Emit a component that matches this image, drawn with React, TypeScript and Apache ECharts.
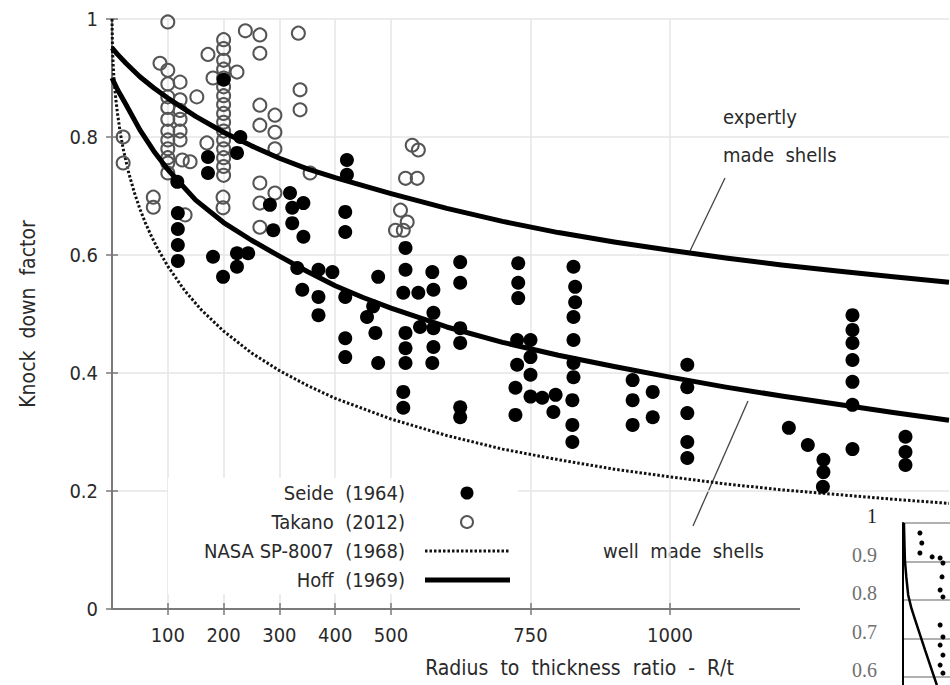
import React, { useEffect, useRef } from "react";
import * as echarts from "echarts";

const FONT = "'DejaVu Sans Condensed','Liberation Sans Narrow','DejaVu Sans',sans-serif";
const SERIF = "'Liberation Serif','DejaVu Serif',serif";

const xTicks = [100, 200, 300, 400, 500, 750, 1000];

const seide: number[][] = [
  [117, 0.724], [118, 0.671], [118, 0.644], [118, 0.617], [118, 0.59],
  [172, 0.766], [172, 0.739], [181, 0.597], [199, 0.563], [200, 0.897], [224, 0.773], [230, 0.8],
  [224, 0.603], [224, 0.58], [244, 0.603],
  [283, 0.685], [289, 0.642], [319, 0.705], [323, 0.68], [343, 0.688], [323, 0.654], [343, 0.631],
  [332, 0.578], [341, 0.541], [370, 0.575], [395, 0.571], [370, 0.529], [370, 0.498],
  [421, 0.761], [421, 0.736], [418, 0.673], [418, 0.639], [418, 0.529], [418, 0.459], [418, 0.427],
  [457, 0.495], [468, 0.513], [472, 0.468], [477, 0.563], [477, 0.417],
  [526, 0.612], [526, 0.575], [522, 0.536], [549, 0.536], [574, 0.571], [576, 0.541], [576, 0.502],
  [552, 0.478], [576, 0.476], [526, 0.468], [526, 0.442], [526, 0.417], [576, 0.444], [574, 0.417],
  [522, 0.368], [522, 0.341],
  [624, 0.588], [624, 0.553], [624, 0.476], [624, 0.451], [624, 0.342], [624, 0.325],
  [728, 0.586], [728, 0.553], [728, 0.527], [726, 0.456], [750, 0.456], [750, 0.427], [726, 0.414],
  [750, 0.397], [723, 0.375], [750, 0.36], [771, 0.358], [795, 0.363], [791, 0.334], [723, 0.329],
  [827, 0.58], [830, 0.546], [830, 0.52], [827, 0.495], [827, 0.456], [827, 0.417], [827, 0.393],
  [825, 0.354], [825, 0.312], [825, 0.283],
  [933, 0.388], [933, 0.354], [933, 0.312], [969, 0.368], [969, 0.325],
  [1031, 0.414], [1031, 0.376], [1031, 0.332], [1031, 0.283], [1031, 0.256],
  [1213, 0.307], [1247, 0.278], [1275, 0.253], [1275, 0.232], [1274, 0.207],
  [1327, 0.498], [1327, 0.473], [1327, 0.451], [1327, 0.422], [1327, 0.385], [1327, 0.346], [1327, 0.271],
  [1422, 0.292], [1422, 0.266], [1422, 0.244],
];

const takano: number[][] = [
  [20, 0.8], [20, 0.756], [74, 0.698], [74, 0.681],
  [100, 0.995], [86, 0.925], [100, 0.913], [100, 0.89], [100, 0.868], [100, 0.85], [100, 0.83],
  [100, 0.81], [100, 0.795], [100, 0.78], [100, 0.765], [100, 0.756], [100, 0.739],
  [122, 0.893], [122, 0.863], [122, 0.845], [122, 0.83], [122, 0.81], [122, 0.795], [126, 0.761],
  [140, 0.758], [131, 0.668],
  [200, 0.965], [200, 0.95], [200, 0.93], [200, 0.915], [200, 0.9], [200, 0.885], [200, 0.87],
  [200, 0.855], [200, 0.84], [200, 0.825], [200, 0.81], [200, 0.795], [200, 0.78], [200, 0.765],
  [200, 0.75], [200, 0.735], [199, 0.698], [199, 0.68],
  [172, 0.94], [181, 0.9], [152, 0.868], [170, 0.79], [224, 0.91], [239, 0.98], [265, 0.973],
  [265, 0.942], [265, 0.854], [292, 0.837], [265, 0.82], [292, 0.808], [292, 0.78], [334, 0.976],
  [337, 0.88], [337, 0.846], [355, 0.739], [265, 0.722], [292, 0.705], [265, 0.688], [265, 0.647],
  [538, 0.786], [549, 0.778], [526, 0.73], [547, 0.73], [517, 0.676], [529, 0.656], [508, 0.642],
  [522, 0.642],
];

const nasa: number[][] = [
  [0, 1], [1, 0.945], [2, 0.924], [3, 0.907], [5, 0.882], [7, 0.863], [10, 0.839], [15, 0.806],
  [20, 0.78], [30, 0.739], [40, 0.706], [50, 0.678], [60, 0.654], [70, 0.633], [80, 0.614],
  [100, 0.581], [130, 0.54], [160, 0.507], [200, 0.471], [250, 0.434], [300, 0.404], [350, 0.379],
  [400, 0.357], [500, 0.322], [600, 0.294], [700, 0.271], [800, 0.253], [900, 0.237], [1000, 0.224],
  [1100, 0.212], [1200, 0.202], [1300, 0.194], [1400, 0.186], [1500, 0.179],
];

const hoffUpper: number[][] = [
  [0, 0.951], [10, 0.94], [25, 0.925], [50, 0.902], [75, 0.883], [100, 0.866], [150, 0.835],
  [200, 0.808], [250, 0.785], [300, 0.764], [350, 0.746], [400, 0.731], [500, 0.704], [600, 0.679],
  [700, 0.657], [800, 0.638], [900, 0.622], [1000, 0.608], [1100, 0.595], [1200, 0.583],
  [1300, 0.573], [1400, 0.563], [1500, 0.554],
];

const hoffLower: number[][] = [
  [0, 0.9], [10, 0.88], [25, 0.855], [50, 0.812], [75, 0.776], [100, 0.745], [150, 0.693],
  [200, 0.655], [250, 0.625], [300, 0.598], [350, 0.572], [400, 0.548], [450, 0.528], [500, 0.51],
  [600, 0.478], [700, 0.452], [800, 0.43], [900, 0.411], [1000, 0.393], [1100, 0.376], [1200, 0.361],
  [1300, 0.347], [1400, 0.333], [1500, 0.32],
];

// fragment of a neighbouring figure, bottom-right corner
const insetTicks = [0.6, 0.7, 0.8, 0.9, 1];
const insetCurve: number[][] = [
  [2, 1.0], [3, 0.95], [4, 0.904], [7, 0.86], [11, 0.813], [18, 0.778], [26, 0.748], [47, 0.67], [72, 0.579],
];
const insetDots: number[][] = [
  [36, 0.974], [40, 0.948], [36, 0.922], [62, 0.912], [79, 0.909], [85, 0.896], [83, 0.86],
  [79, 0.826], [85, 0.808], [79, 0.735], [85, 0.704], [79, 0.683], [85, 0.657], [79, 0.631], [85, 0.61],
];

const legendRows = [
  { label: "Seide  (1964)", kind: "filled" },
  { label: "Takano  (2012)", kind: "open" },
  { label: "NASA SP-8007  (1968)", kind: "dotted" },
  { label: "Hoff  (1969)", kind: "solid" },
];

const TEXT = "#2a2a2a";
const AXIS = "#7a7a7a";
const GRID = "#e6e6e6";

export default function App() {
  const ref = useRef<HTMLDivElement>(null);
  useEffect(() => {
    document.body.style.margin = "0";
    if (!ref.current) return;
    const chart = echarts.init(ref.current, null, { renderer: "svg" });

    const legendGraphics: any[] = [
      { type: "rect", z: 10, shape: { x: 168, y: 478, width: 350, height: 116 }, style: { fill: "#fff" } },
    ];
    const rowY = [493, 522, 551, 580];
    legendRows.forEach((r, i) => {
      const y = rowY[i];
      legendGraphics.push({
        type: "text",
        z: 11,
        x: 405,
        y,
        style: { text: r.label, font: `20px ${FONT}`, fill: TEXT, align: "right", verticalAlign: "middle" },
      });
      if (r.kind === "filled") {
        legendGraphics.push({ type: "circle", z: 11, shape: { cx: 467, cy: y, r: 6.5 }, style: { fill: "#000" } });
      } else if (r.kind === "open") {
        legendGraphics.push({ type: "circle", z: 11, shape: { cx: 467, cy: y, r: 6 }, style: { fill: "none", stroke: "#555", lineWidth: 2 } });
      } else if (r.kind === "dotted") {
        legendGraphics.push({ type: "line", z: 11, shape: { x1: 425, y1: y, x2: 510, y2: y }, style: { stroke: "#111", lineWidth: 3, lineDash: [2.5, 2] } });
      } else {
        legendGraphics.push({ type: "line", z: 11, shape: { x1: 425, y1: y, x2: 510, y2: y }, style: { stroke: "#000", lineWidth: 5 } });
      }
    });

    chart.setOption({
      animation: false,
      backgroundColor: "#fff",
      textStyle: { fontFamily: FONT },
      grid: [
        { left: 112, top: 19, right: 1, bottom: 76, outerBoundsMode: "none" },
        { left: 903, top: 523, width: 47, height: 192.5, outerBoundsMode: "none" },
      ],
      xAxis: [
        {
          type: "value", gridIndex: 0, min: 0, max: 1500,
          name: "Radius  to  thickness  ratio  -  R/t",
          nameLocation: "middle", nameGap: 48,
          nameTextStyle: { fontSize: 21, color: TEXT, fontFamily: FONT, padding: [0, 0, 0, 98] },
          axisLine: { show: true, lineStyle: { color: AXIS, width: 2 } },
          axisTick: { show: true, inside: true, length: 6, customValues: xTicks, lineStyle: { color: AXIS, width: 1.5 } },
          axisLabel: { customValues: xTicks, fontSize: 20, color: TEXT, margin: 16, fontFamily: FONT, formatter: (v: number) => String(v) },
          splitLine: { show: true, lineStyle: { color: GRID, width: 1.5 } },
        },
        {
          type: "value", gridIndex: 0, min: 0, max: 1500, position: "top",
          axisLine: { show: true, lineStyle: { color: AXIS, width: 2 } },
          axisTick: { show: true, inside: true, length: 6, customValues: xTicks, lineStyle: { color: AXIS, width: 1.5 } },
          axisLabel: { show: false },
          splitLine: { show: false },
        },
        {
          type: "value", gridIndex: 1, min: 0, max: 100, show: false, z: 60,
        },
      ],
      yAxis: [
        {
          type: "value", gridIndex: 0, min: 0, max: 1, interval: 0.2,
          name: "Knock  down  factor", nameLocation: "middle", nameGap: 74,
          nameTextStyle: { fontSize: 21, color: TEXT, fontFamily: FONT },
          axisLine: { show: true, lineStyle: { color: AXIS, width: 2 } },
          axisTick: { show: true, inside: true, length: 6, lineStyle: { color: AXIS, width: 1.5 } },
          axisLabel: { fontSize: 20, color: TEXT, margin: 14, fontFamily: FONT },
          splitLine: { show: true, lineStyle: { color: GRID, width: 1.5 } },
        },
        {
          type: "value", gridIndex: 0, min: 0, max: 1, interval: 0.2, position: "right",
          axisLine: { show: false },
          axisTick: { show: true, inside: true, length: 6, lineStyle: { color: AXIS, width: 1.5 } },
          axisLabel: { show: false },
          splitLine: { show: false },
        },
        {
          type: "value", gridIndex: 1, min: 0.5, max: 1, interval: 0.1, z: 60,
          axisLine: { show: true, lineStyle: { color: "#000", width: 2 } },
          axisTick: { show: false },
          axisLabel: {
            customValues: insetTicks,
            fontSize: 20, margin: 26, fontFamily: SERIF,
            verticalAlign: "bottom", lineHeight: 14,
            color: (v: any) => (Number(v) === 1 ? "#222" : "#707070"),
          },
          splitLine: { show: true, lineStyle: { color: "#b0b0b0", width: 2 } },
        },
      ],
      graphic: [
        ...legendGraphics,
        { type: "text", x: 723, y: 117, style: { text: "expertly", font: `20px ${FONT}`, fill: TEXT, verticalAlign: "middle" } },
        { type: "text", x: 723, y: 155, style: { text: "made  shells", font: `20px ${FONT}`, fill: TEXT, verticalAlign: "middle" } },
        { type: "line", shape: { x1: 725, y1: 178, x2: 690, y2: 251 }, style: { stroke: "#444", lineWidth: 1.3 } },
        { type: "text", x: 603, y: 551, style: { text: "well  made  shells", font: `20px ${FONT}`, fill: TEXT, verticalAlign: "middle" } },
        { type: "line", shape: { x1: 748, y1: 401, x2: 693, y2: 526 }, style: { stroke: "#444", lineWidth: 1.3 } },
        { type: "rect", z: 50, shape: { x: 800, y: 505, width: 150, height: 180 }, style: { fill: "#fff" } },
      ],
      series: [
        {
          name: "NASA SP-8007 (1968)", type: "line", xAxisIndex: 0, yAxisIndex: 0, data: nasa,
          showSymbol: false, smooth: false, z: 3,
          lineStyle: { color: "#111", width: 3, type: [2.5, 2] },
        },
        {
          name: "Takano (2012)", type: "scatter", xAxisIndex: 0, yAxisIndex: 0, data: takano,
          symbol: "circle", symbolSize: 13, z: 4,
          itemStyle: { color: "rgba(255,255,255,0)", borderColor: "#555", borderWidth: 2, opacity: 1 },
        },
        {
          name: "Seide (1964)", type: "scatter", xAxisIndex: 0, yAxisIndex: 0, data: seide,
          symbol: "circle", symbolSize: 14, z: 5,
          itemStyle: { color: "#000", opacity: 1 },
        },
        {
          name: "Hoff (1969) expertly made", type: "line", xAxisIndex: 0, yAxisIndex: 0, data: hoffUpper,
          showSymbol: false, smooth: false, z: 6,
          lineStyle: { color: "#000", width: 5, join: "round" },
        },
        {
          name: "Hoff (1969) well made", type: "line", xAxisIndex: 0, yAxisIndex: 0, data: hoffLower,
          showSymbol: false, smooth: false, z: 6,
          lineStyle: { color: "#000", width: 5, join: "round" },
        },
        {
          name: "inset curve", type: "line", xAxisIndex: 2, yAxisIndex: 2, data: insetCurve,
          showSymbol: false, smooth: false, z: 61, clip: false,
          lineStyle: { color: "#000", width: 2.5 },
        },
        {
          name: "inset points", type: "scatter", xAxisIndex: 2, yAxisIndex: 2, data: insetDots,
          symbol: "circle", symbolSize: 5, z: 61,
          itemStyle: { color: "#000", opacity: 1 },
        },
      ],
    });
    return () => chart.dispose();
  }, []);
  return <div ref={ref} style={{ width: 950, height: 685 }} />;
}
